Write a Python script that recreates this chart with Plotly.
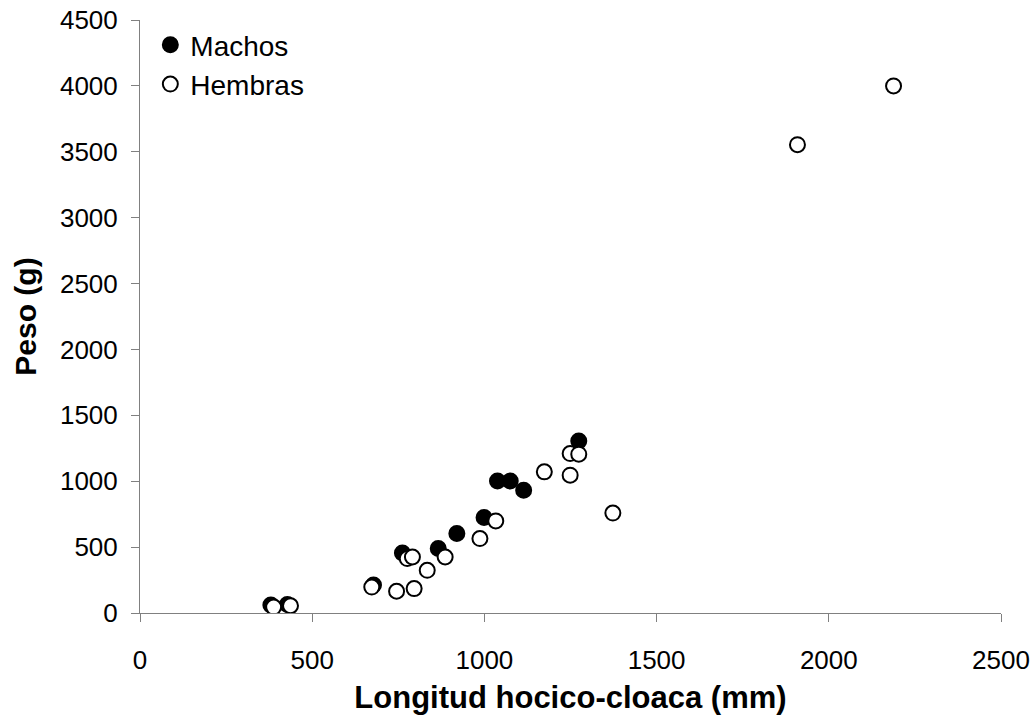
import plotly.graph_objects as go

# Machos (filled)
machos_x = [380, 428, 678, 762, 866, 920, 999, 1038, 1075, 1114, 1274]
machos_y = [60, 65, 212, 456, 489, 603, 724, 1002, 1002, 932, 1306]

# Hembras (open)
hembras_x = [388, 437, 673, 745, 796, 834, 776, 791, 886, 987, 1033, 1174, 1249, 1249, 1274, 1373, 1909, 2188]
hembras_y = [45, 55, 197, 165, 185, 324, 413, 425, 425, 565, 699, 1071, 1046, 1210, 1205, 758, 3554, 4000]

x_ticks = [0, 500, 1000, 1500, 2000, 2500]
y_ticks = [0, 500, 1000, 1500, 2000, 2500, 3000, 3500, 4000, 4500]

FONT = "Liberation Sans, Arial"

fig = go.Figure()
fig.add_trace(go.Scatter(
    x=machos_x, y=machos_y, mode="markers", name="Machos",
    marker=dict(size=15, color="black", line=dict(color="black", width=2)),
))
fig.add_trace(go.Scatter(
    x=hembras_x, y=hembras_y, mode="markers", name="Hembras",
    marker=dict(size=15, color="white", line=dict(color="black", width=2)),
))

axis_common = dict(
    showgrid=False, zeroline=False, showline=True, linecolor="#808080", linewidth=1,
    ticks="outside", ticklen=8, tickcolor="#808080", automargin=False,
    tickfont=dict(family=FONT, size=26, color="black"),
)

fig.update_layout(
    width=1031, height=719,
    margin=dict(l=140, r=30, t=20, b=106),
    paper_bgcolor="white", plot_bgcolor="white",
    showlegend=True,
    legend=dict(x=0.012, y=1.0, xanchor="left", yanchor="top",
                font=dict(family=FONT, size=28, color="black"),
                bgcolor="rgba(0,0,0,0)", itemsizing="trace", tracegroupgap=2,
                itemwidth=30),
    xaxis=dict(range=[0, 2500], tickvals=x_ticks, ticklabelstandoff=16, **axis_common,
               title=dict(text="<b>Longitud hocico-cloaca (mm)</b>", standoff=12,
                          font=dict(family=FONT, size=31, color="black"))),
    yaxis=dict(range=[0, 4500], tickvals=y_ticks, ticklabelstandoff=8, **axis_common,
               title=dict(text="<b>Peso (g)</b>", standoff=14,
                          font=dict(family=FONT, size=30, color="black"))),
)

fig.write_html("out.html")
